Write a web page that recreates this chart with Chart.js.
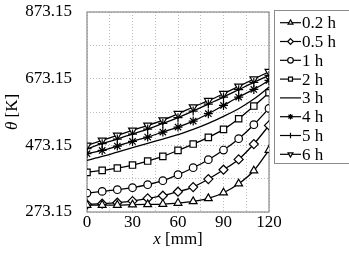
<!DOCTYPE html>
<html>
<head>
<meta charset="utf-8">
<script src="https://cdn.jsdelivr.net/npm/chart.js@4/dist/chart.umd.min.js"></script>
<style>
  html, body { margin: 0; padding: 0; background: #fff; }
  #wrap { width: 349px; height: 253px; }
</style>
</head>
<body>
<div id="wrap"><canvas id="mycanvas" width="349" height="253"></canvas></div>
<script>
// positions along the bar, mm
var xPos = [0, 10, 20, 30, 40, 50, 60, 70, 80, 90, 100, 110, 120];

// temperatures in K
var t02 = [294, 294, 294, 295, 296, 297, 300, 305, 314, 331, 358, 397, 459];
var t05 = [296, 298, 301, 306, 314, 322, 334, 348, 372, 400, 431, 477, 533];
var t1  = [330, 335, 340, 346, 355, 367, 385, 406, 430, 459, 493, 535, 584];
var t2  = [392, 398, 405, 414, 426, 440, 458, 477, 497, 521, 553, 591, 631];
var t3  = [428, 440, 453, 466, 479, 492, 505, 521, 539, 560, 583, 612, 648];
var t4  = [448, 458, 471, 485, 498, 513, 528, 546, 568, 593, 618, 641, 668];
var t5  = [463, 478, 492, 507, 522, 539, 556, 576, 597, 618, 640, 662, 683];
var t6  = [473, 488, 503, 518, 533, 549, 568, 588, 607, 628, 650, 672, 694];

var names = ["0.2 h", "0.5 h", "1 h", "2 h", "3 h", "4 h", "5 h", "6 h"];
var yGrid = [273.15, 373.15, 473.15, 573.15, 673.15, 773.15, 873.15];
var yTickLabels = [273.15, 473.15, 673.15, 873.15];
var xTickLabels = [0, 30, 60, 90, 120];

var serif = "'Liberation Serif', 'DejaVu Serif', serif";

function pts(arr){
  var out = [];
  for (var i = 0; i < xPos.length; i++) out.push({x: xPos[i], y: arr[i]});
  return out;
}

var styles = [
  {ps: 'triangle', rot: 0},
  {ps: 'rectRot', rot: 0},
  {ps: 'circle', rot: 0},
  {ps: 'rect', rot: 0},
  {ps: false, rot: 0},
  {ps: 'star', rot: 0},
  {ps: 'cross', rot: 0},
  {ps: 'triangle', rot: 180}
];
var series = [t02, t05, t1, t2, t3, t4, t5, t6];

var datasets = [];
for (var k = 0; k < series.length; k++) {
  datasets.push({
    label: names[k],
    data: pts(series[k]),
    borderColor: '#000',
    borderWidth: 1.3,
    backgroundColor: k == 5 ? '#000' : '#fff',
    pointStyle: styles[k].ps,
    rotation: styles[k].rot,
    pointRadius: styles[k].ps ? (k == 2 ? 3.8 : 4.5) : 0,
    pointBorderWidth: 1.2,
    pointBorderColor: '#000',
    pointBackgroundColor: k == 5 ? '#000' : '#fff',
    cubicInterpolationMode: 'monotone',
    fill: false
  });
}

var framePlugin = {
  id: 'frame',
  beforeDatasetsDraw: function(chart){
    var c = chart.ctx, a = chart.chartArea;
    c.save();
    c.strokeStyle = '#8a8a8a';
    c.lineWidth = 1.2;
    c.strokeRect(a.left, a.top, a.right - a.left, a.bottom - a.top);
    c.restore();
  },
  afterDraw: function(chart){
    var c = chart.ctx, a = chart.chartArea;
    c.save();
    c.fillStyle = '#000';
    // axis titles
    c.font = 'italic 17px ' + serif;
    c.textBaseline = 'middle';
    var xi = c.measureText('x').width;
    c.font = '17px ' + serif;
    var xr = c.measureText(' [mm]').width;
    var cx = (a.left + a.right) / 2 - (xi + xr) / 2;
    c.textAlign = 'left';
    c.font = 'italic 17px ' + serif;
    c.fillText('x', cx, 240);
    c.font = '17px ' + serif;
    c.fillText(' [mm]', cx + xi, 240);

    c.translate(13, (a.top + a.bottom) / 2);
    c.rotate(-Math.PI / 2);
    c.font = 'italic 17px ' + serif;
    var ti = c.measureText('θ').width;
    c.font = '17px ' + serif;
    var tr = c.measureText(' [K]').width;
    var cy = -(ti + tr) / 2;
    c.font = 'italic 17px ' + serif;
    c.fillText('θ', cy, 0);
    c.font = '17px ' + serif;
    c.fillText(' [K]', cy + ti, 0);
    c.restore();

    // legend box
    c.save();
    c.strokeStyle = '#8a8a8a';
    c.lineWidth = 1;
    c.fillStyle = '#fff';
    c.fillRect(274.5, 10.5, 80, 153);
    c.strokeRect(274.5, 10.5, 80, 153);
    for (var i = 0; i < names.length; i++) {
      var y = 22.7 + i * 18.8;
      c.strokeStyle = '#000';
      c.lineWidth = 1.2;
      c.beginPath();
      c.moveTo(280, y);
      c.lineTo(301, y);
      c.stroke();
      if (styles[i].ps) {
        c.fillStyle = i == 5 ? '#000' : '#fff';
        Chart.helpers.drawPoint(c, {pointStyle: styles[i].ps, rotation: styles[i].rot, radius: 2.8, borderWidth: 1}, 290.5, y);
      }
      c.fillStyle = '#000';
      c.font = '17px ' + serif;
      c.textAlign = 'left';
      c.textBaseline = 'middle';
      c.fillText(names[i], 302, y + 1);
    }
    c.restore();
  }
};

var ctx = document.getElementById('mycanvas');
var linegraph = new Chart(ctx, {
  type: 'line',
  data: { datasets: datasets },
  plugins: [framePlugin],
  options: {
    responsive: false,
    animation: false,
    layout: { padding: { top: 12, right: 80, bottom: 0, left: 0 } },
    plugins: { legend: { display: false }, tooltip: { enabled: false } },
    scales: {
      x: {
        type: 'linear',
        min: 0, max: 120,
        afterFit: function(s){ s.height = 41; s.paddingLeft = 0; s.paddingRight = 0; },
        border: { display: false, dash: [1, 2] },
        grid: { color: '#bdbdbd', lineWidth: 1, drawTicks: false },
        ticks: {
          stepSize: 15, autoSkip: false, maxRotation: 0, padding: 0,
          color: '#000', font: { family: serif, size: 17 },
          callback: function(v){ return xTickLabels.indexOf(v) >= 0 ? String(v) : ''; }
        }
      },
      y: {
        type: 'linear',
        min: 273.15, max: 873.15,
        afterFit: function(s){ s.width = 87; s.paddingTop = 0; s.paddingBottom = 0; },
        afterBuildTicks: function(s){ s.ticks = yGrid.map(function(v){ return {value: v}; }); },
        border: { display: false, dash: [1, 2] },
        grid: { color: '#bdbdbd', lineWidth: 1, drawTicks: false },
        ticks: {
          autoSkip: false, padding: 15,
          color: '#000', font: { family: serif, size: 17 },
          callback: function(v){
            for (var i = 0; i < yTickLabels.length; i++) {
              if (Math.abs(yTickLabels[i] - v) < 0.01) return yTickLabels[i].toFixed(2);
            }
            return '';
          }
        }
      }
    }
  }
});
</script>
</body>
</html>
